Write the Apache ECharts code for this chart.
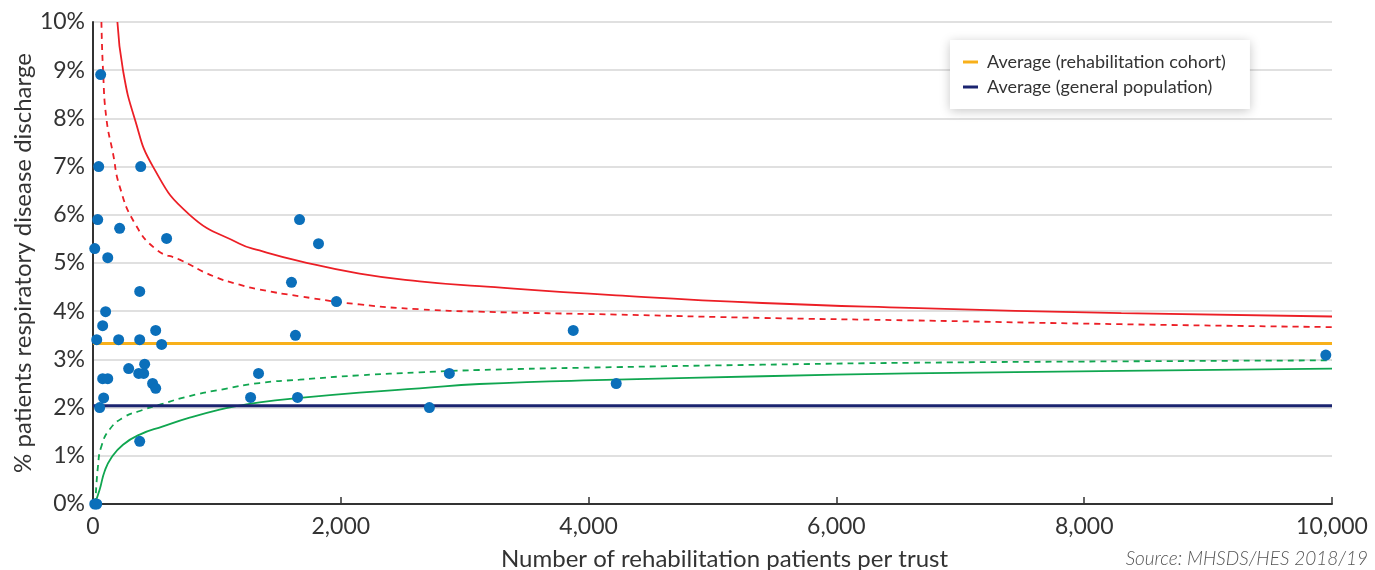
<!DOCTYPE html>
<html><head><meta charset="utf-8">
<script src="https://cdn.jsdelivr.net/npm/echarts@6/dist/echarts.min.js"></script>
<style>html,body{margin:0;padding:0;background:#fff}#c{width:1375px;height:570px}</style>
</head><body><div id="c"></div>
<script>
// ---- data (percent units) ----
const xTicks = [0, 2000, 4000, 6000, 8000, 10000];
const yTicks = [0,1,2,3,4,5,6,7,8,9,10];
const trustPatients = [62,46,385,38,215,594,14,119,377,102,78,506,30,207,377,554,417,288,78,119,369,409,481,506,86,54,377,14,30,1667,1820,1602,1965,1634,1336,1272,1651,2876,2715,3876,4223,9950];
const trustRates    = [8.91,7.0,7.0,5.90,5.72,5.51,5.30,5.11,4.41,3.99,3.70,3.60,3.41,3.41,3.41,3.31,2.90,2.81,2.60,2.60,2.71,2.71,2.50,2.40,2.20,2.0,1.30,0,0,5.90,5.40,4.60,4.20,3.50,2.71,2.21,2.21,2.71,2.00,3.60,2.50,3.09];
const cohortAverage = 3.33;
const generalAverage = 2.04;
const upper998N = [197,242,336,484,780,1183,1344,1667,2151,2635,3118,4223,5403,6590,8300,10000];
const upper998V = [10,9,8,7,6,5.40,5.26,5.04,4.78,4.62,4.52,4.33,4.17,4.07,3.96,3.89];
const upper95N = [68,81,108,161,215,336,511,699,968,1183,1344,1667,2151,2635,3118,4223,5403,6590,8300,10000];
const upper95V = [10,9,8,7.28,6.59,5.83,5.28,5.07,4.73,4.55,4.45,4.31,4.14,4.04,3.99,3.93,3.86,3.81,3.73,3.67];
const lower95N = [19,40,68,135,242,377,538,780,1048,1344,1667,2151,2635,3118,4223,5403,6590,8300,10000];
const lower95V = [0,0.78,1.2,1.55,1.79,1.93,2.06,2.24,2.38,2.51,2.58,2.67,2.73,2.78,2.84,2.89,2.93,2.96,2.98];
const lower998N = [14,54,94,148,242,377,565,780,1022,1183,1344,1667,2151,2635,3118,4223,5403,6590,8300,10000];
const lower998V = [0,0.30,0.68,0.96,1.23,1.44,1.61,1.79,1.96,2.04,2.11,2.20,2.31,2.40,2.49,2.58,2.65,2.71,2.76,2.81];
const legendNames = ['Average (rehabilitation cohort)', 'Average (general population)'];

const zip = (a, b) => a.map((v, i) => [v, b[i]]);
const FONT = 'Lato, "Open Sans", sans-serif';
const RED = '#ec1f26', GREEN = '#10a650', ORANGE = '#f8b01a', NAVY = '#1b2470', BLUE = '#0b6fba';

const curve = (name, n, v, color, dashed) => ({
  name, type: 'line', data: zip(n, v), showSymbol: false, symbol: 'none',
  smooth: 0.5, clip: true, silent: true, z: 3,
  lineStyle: { color, width: 1.8, type: dashed ? [6, 5] : 'solid' }
});

const chart = echarts.init(document.getElementById('c'), null, { renderer: 'canvas' });
chart.setOption({
  animation: false,
  textStyle: { fontFamily: FONT },
  grid: { left: 93, right: 43, top: 22, bottom: 66, containLabel: false, outerBoundsMode: 'none' },
  legend: {
    data: legendNames, orient: 'vertical', left: 950, top: 40,
    padding: [13, 24, 13, 13], itemGap: 7, itemWidth: 15, itemHeight: 3, icon: 'rect',
    backgroundColor: '#fff', shadowBlur: 10, shadowColor: 'rgba(0,0,0,0.22)', shadowOffsetY: 2,
    textStyle: { fontFamily: FONT, fontSize: 18, color: '#333', padding: [0, 0, 0, 4] }, selectedMode: false
  },
  xAxis: {
    type: 'value', min: xTicks[0], max: xTicks[xTicks.length - 1], interval: 2000,
    name: 'Number of rehabilitation patients per trust', nameLocation: 'middle', nameGap: 43,
    nameMoveOverlap: false,
    nameTextStyle: { fontFamily: FONT, fontSize: 24, color: '#333', padding: [0, 0, 0, 24] },
    axisLine: { show: true, lineStyle: { color: '#333', width: 2 } },
    axisTick: { show: true, inside: true, length: 7, lineStyle: { color: '#333', width: 1.5 } },
    axisLabel: { fontFamily: FONT, fontSize: 23, color: '#333', margin: 11,
      formatter: v => v.toLocaleString('en-US') },
    splitLine: { show: false }
  },
  yAxis: {
    type: 'value', min: yTicks[0], max: yTicks[yTicks.length - 1], interval: 1,
    name: '% patients respiratory disease discharge', nameLocation: 'middle', nameGap: 58,
    nameMoveOverlap: false,
    nameTextStyle: { fontFamily: FONT, fontSize: 24, color: '#333' },
    axisLine: { show: true, lineStyle: { color: '#333', width: 2 } },
    axisTick: { show: false },
    axisLabel: { fontFamily: FONT, fontSize: 23, color: '#333', margin: 8, formatter: '{value}%' },
    splitLine: { show: true, lineStyle: { color: '#d6d6d6', width: 1.5 } }
  },
  graphic: [{
    type: 'text', right: 7, top: 549,
    style: { text: 'Source: MHSDS/HES 2018/19', font: 'italic 300 19px ' + FONT, fill: '#555' }
  }],
  series: [
    curve('Upper 99.8%', upper998N, upper998V, RED, false),
    curve('Upper 95%', upper95N, upper95V, RED, true),
    curve('Lower 95%', lower95N, lower95V, GREEN, true),
    curve('Lower 99.8%', lower998N, lower998V, GREEN, false),
    { name: legendNames[0], type: 'line', data: [[xTicks[0], cohortAverage], [xTicks[xTicks.length-1], cohortAverage]],
      showSymbol: false, symbol: 'none', lineStyle: { color: ORANGE, width: 3 }, itemStyle: { color: ORANGE }, z: 4 },
    { name: legendNames[1], type: 'line', data: [[xTicks[0], generalAverage], [xTicks[xTicks.length-1], generalAverage]],
      showSymbol: false, symbol: 'none', lineStyle: { color: NAVY, width: 3 }, itemStyle: { color: NAVY }, z: 4 },
    { name: 'Trusts', type: 'scatter', data: zip(trustPatients, trustRates), symbolSize: 11,
      clip: false, itemStyle: { color: BLUE, opacity: 1 }, z: 6 }
  ]
});
</script></body></html>
